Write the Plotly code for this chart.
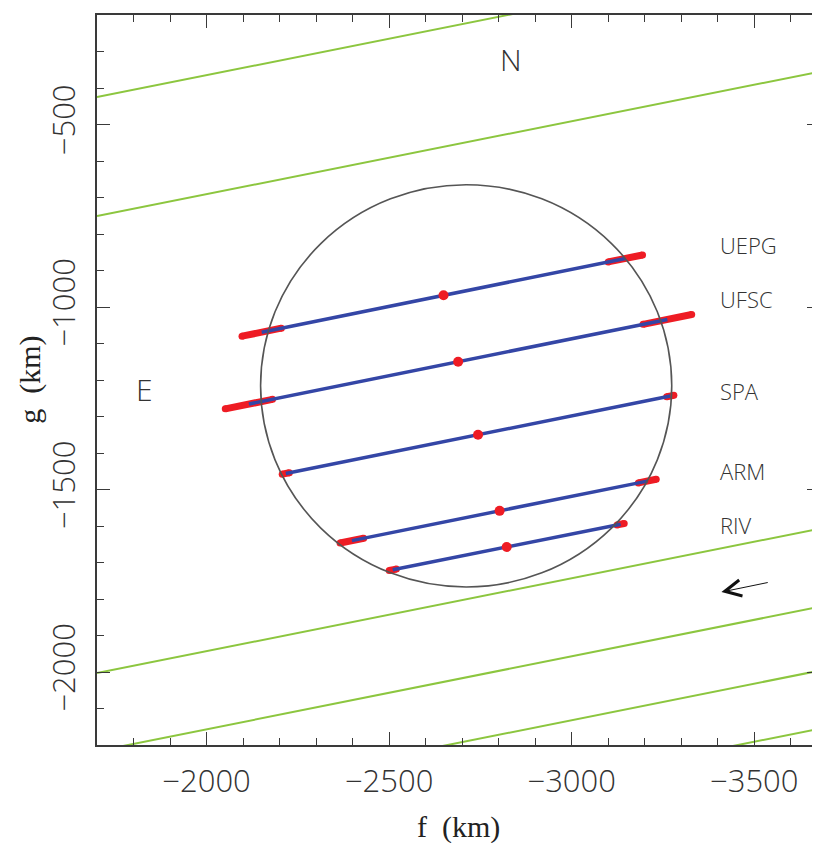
import plotly.graph_objects as go

# ---- data (km in the f/g sky plane) ----
stations = ["UEPG", "UFSC", "SPA", "ARM", "RIV"]
ing_f = [-2151, -2116, -2217, -2398, -2510]
ing_g = [-1069, -1266, -1456, -1640, -1720]
egr_f = [-3147, -3262, -3270, -3207, -3134]
egr_g = [-867, -1034, -1244, -1477, -1595]
ing_err = [55, 66, 10, 33, 10]
egr_err = [48, 68, 10, 25, 10]

label_f = -3400
label_g = [-829, -979, -1230, -1450, -1598]

# shadow-path limits (green), given at the two plot edges
green_f = [-1700, -3680]
green_g_left = [-425, -751, -2003, -2217, -2392, -2551]
green_g_right = [-29, -355, -1607, -1821, -1996, -2155]

# fitted limb
ell_f0, ell_g0 = -2711, -1216
ell_a, ell_b = 563, 551

X_RANGE = [-1700, -3680]
Y_RANGE = [-2200, -200]

AXIS = "#3a3a3a"
RED = "#ee1c24"
BLUE = "#3446a6"
GREEN = "#8cc63f"
SANS = "Open Sans, Liberation Sans, sans-serif"
SERIF = "Liberation Serif, DejaVu Serif, serif"
LIGHT = dict(family=SANS, color="#333", weight=300)

fig = go.Figure()

for gl, gr in zip(green_g_left, green_g_right):
    fig.add_trace(go.Scatter(x=green_f, y=[gl, gr], mode="lines",
                             line=dict(color=GREEN, width=2), hoverinfo="skip"))

# error segments along chord direction
for fi, gi, fe, ge, ei, ee in zip(ing_f, ing_g, egr_f, egr_g, ing_err, egr_err):
    L = ((fe - fi) ** 2 + (ge - gi) ** 2) ** 0.5
    uf, ug = (fe - fi) / L, (ge - gi) / L
    for f0, g0, e in [(fi, gi, ei), (fe, ge, ee)]:
        fig.add_trace(go.Scatter(
            x=[f0 - e * uf, f0 + e * uf], y=[g0 - e * ug, g0 + e * ug],
            mode="lines+markers", line=dict(color=RED, width=7),
            marker=dict(color=RED, size=7), hoverinfo="skip"))

# chords
for fi, gi, fe, ge in zip(ing_f, ing_g, egr_f, egr_g):
    fig.add_trace(go.Scatter(x=[fi, fe], y=[gi, ge], mode="lines",
                             line=dict(color=BLUE, width=3.5), hoverinfo="skip"))

# chord centres
mid_f = [(a + b) / 2 for a, b in zip(ing_f, egr_f)]
mid_g = [(a + b) / 2 for a, b in zip(ing_g, egr_g)]
fig.add_trace(go.Scatter(x=mid_f, y=mid_g, mode="markers",
                         marker=dict(color=RED, size=10), hoverinfo="skip"))

fig.add_shape(type="circle", xref="x", yref="y",
              x0=ell_f0 - ell_a, x1=ell_f0 + ell_a,
              y0=ell_g0 - ell_b, y1=ell_g0 + ell_b,
              line=dict(color="#555555", width=1.6))

ann = []
for s, g in zip(stations, label_g):
    ann.append(dict(x=label_f, y=g, text=s, showarrow=False, xanchor="left",
                    yanchor="middle", font=dict(LIGHT, size=22)))
ann.append(dict(x=-2833, y=-322, text="N", showarrow=False, font=dict(LIGHT, size=30)))
ann.append(dict(x=-1831, y=-1225, text="E", showarrow=False, font=dict(LIGHT, size=30)))
ann.append(dict(x=-3410, y=-1781, ax=-3541, ay=-1754, axref="x", ayref="y",
                text="", showarrow=True, arrowhead=5, arrowsize=3.2,
                arrowwidth=1.0, arrowcolor="#111"))

# axis titles placed as annotations for exact positioning
ann.append(dict(x=0.5, y=-0.112, xref="paper", yref="paper", text="f  (km)",
                showarrow=False, yanchor="middle",
                font=dict(family=SERIF, size=30, color="#222")))
ann.append(dict(x=-0.093, y=0.5, xref="paper", yref="paper", text="g  (km)",
                showarrow=False, textangle=-90, xanchor="center",
                font=dict(family=SERIF, size=30, color="#222")))


def _ax(rng, **kw):
    return dict(
        range=rng, autorange=False, automargin=False,
        showgrid=False, zeroline=False,
        showline=True, linecolor=AXIS, linewidth=1.6, mirror="ticks",
        ticks="inside", ticklen=13, tickwidth=1.4, tickcolor=AXIS, dtick=500,
        tickfont=dict(LIGHT, size=31),
        minor=dict(dtick=100, ticks="inside", ticklen=7, tickwidth=1.2, tickcolor=AXIS),
        **kw,
    )


# page body has an 8px margin, so the figure is 8px smaller than the window
fig.update_layout(
    width=812, height=835,
    margin=dict(l=89, r=0, t=7, b=98, pad=0),
    paper_bgcolor="white", plot_bgcolor="white",
    showlegend=False,
    xaxis=_ax(X_RANGE, tick0=-2000, ticklabelstandoff=8),
    yaxis=_ax(Y_RANGE, tick0=-2000, tickangle=-90, ticklabelstandoff=8),
    annotations=ann,
)

fig.write_html("out.html")
